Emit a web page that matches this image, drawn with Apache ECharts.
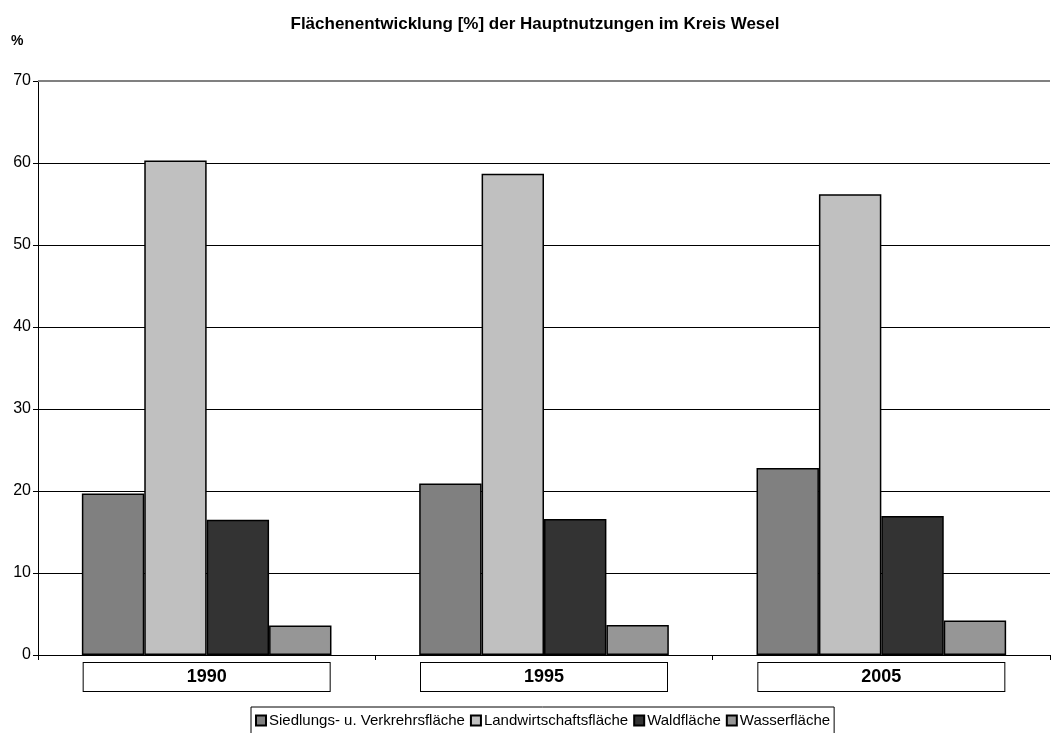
<!DOCTYPE html>
<html><head><meta charset="utf-8">
<script src="https://cdn.jsdelivr.net/npm/echarts@6/dist/echarts.min.js"></script>
<style>html,body{margin:0;padding:0;background:#fff}#c{width:1059px;height:733px}</style>
</head><body><div id="c"></div>
<script>
const categories = ['1990', '1995', '2005'];
const siedlung = [19.7, 20.9, 22.8];
const landwirtschaft = [60.3, 58.7, 56.2];
const wald = [16.5, 16.6, 16.95];
const wasser = [3.6, 3.65, 4.2];
const seriesNames = ['Siedlungs- u. Verkrehrsfläche', 'Landwirtschaftsfläche', 'Waldfläche', 'Wasserfläche'];
const colors = ['#808080', '#c0c0c0', '#333333', '#969696'];
const yTicks = [0, 10, 20, 30, 40, 50, 60, 70];

const font = 'Liberation Sans, Arial, sans-serif';
const chart = echarts.init(document.getElementById('c'), null, {renderer: 'canvas'});
const dataSets = [siedlung, landwirtschaft, wald, wasser];
chart.setOption({
  animation: false,
  color: colors,
  title: {
    text: 'Flächenentwicklung [%] der Hauptnutzungen im Kreis Wesel',
    left: 530, top: 11, textAlign: 'center',
    textStyle: {fontFamily: font, fontSize: 17, fontWeight: 'bold', color: '#000'}
  },
  graphic: [{type: 'text', left: 11, top: 34, style: {text: '%', font: 'bold 14px ' + font, fill: '#000'}}],
  grid: {left: 38, right: 9, top: 81, bottom: 78, containLabel: false},
  legend: {
    data: seriesNames,
    left: 251, top: 707,
    itemWidth: 10, itemHeight: 10, itemGap: 5,
    icon: 'rect',
    borderColor: '#000', borderWidth: 1, borderRadius: 0,
    padding: [6, 4, 6, 4],
    textStyle: {fontFamily: font, fontSize: 15, color: '#000', padding: [0, 0, 0, -2]}
  },
  xAxis: {
    type: 'category', data: categories,
    axisLine: {lineStyle: {color: '#000', width: 1}},
    axisTick: {show: true, length: 5, inside: false, lineStyle: {color: '#000'}},
    axisLabel: {
      margin: 8, fontFamily: font, fontSize: 18, fontWeight: 'bold', color: '#000',
      width: 246, height: 28, lineHeight: 28, align: 'center',
      borderColor: '#000', borderWidth: 1, backgroundColor: '#fff'
    }
  },
  yAxis: {
    type: 'value', min: 0, max: 70, interval: 10,
    axisLine: {show: true, lineStyle: {color: '#000', width: 1}},
    axisTick: {show: true, length: 5, lineStyle: {color: '#000'}},
    axisLabel: {fontFamily: font, fontSize: 16, color: '#000', margin: 7,
      formatter: v => yTicks.includes(v) ? String(v) : ''},
    splitLine: {show: true, lineStyle: {color: '#000', width: 1}}
  },
  series: dataSets.map((d, i) => ({
    name: seriesNames[i], type: 'bar', data: d,
    barGap: '0%', barCategoryGap: '26%',
    itemStyle: {color: colors[i], borderColor: '#000', borderWidth: 1.5},
    markLine: i === 0 ? {
      silent: true, symbol: 'none', label: {show: false},
      lineStyle: {color: '#808080', width: 2, type: 'solid'},
      data: [{yAxis: 70}]
    } : undefined
  }))
});
</script></body></html>
